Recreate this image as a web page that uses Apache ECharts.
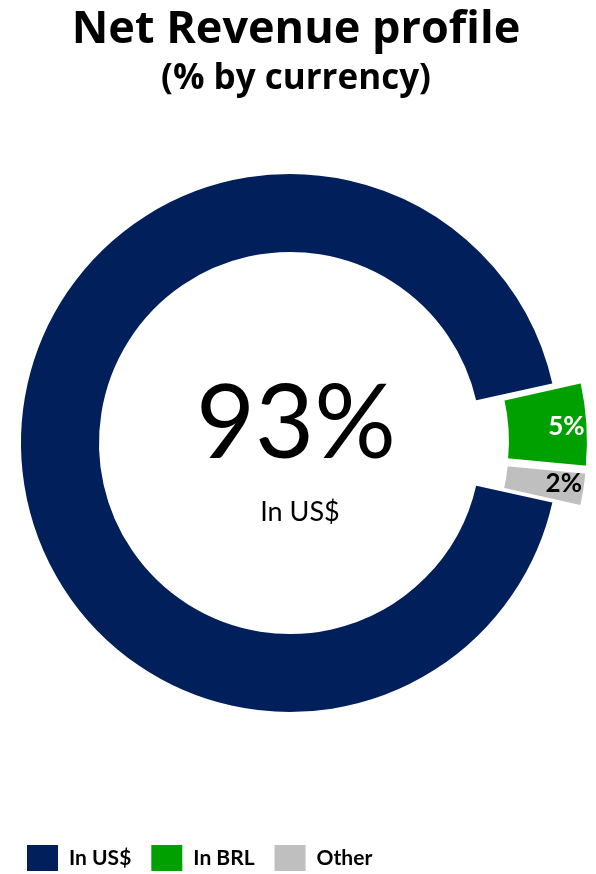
<!DOCTYPE html>
<html>
<head>
<meta charset="utf-8">
<title>Net Revenue profile</title>
<script src="https://cdn.jsdelivr.net/npm/echarts@6/dist/echarts.min.js"></script>
<style>
  html, body { margin: 0; padding: 0; background: #ffffff; }
  #chart { width: 596px; height: 874px; }
</style>
</head>
<body>
<div id="chart"></div>
<script>
// Net revenue split by currency (%)
const currencies = ['In US$', 'In BRL', 'Other'];
const shares = [93, 5, 2];
const sliceColors = ['#001F5B', '#00A000', '#BFBFBF'];
const labelColors = ['#ffffff', '#ffffff', '#000000'];
const exploded = [false, true, true];

const font = 'Lato, "Noto Sans", sans-serif';
const headFont = '"Open Sans", Lato, sans-serif';

const chart = echarts.init(document.getElementById('chart'), null, { renderer: 'canvas' });

// small slices carry their value, pushed towards the outer rim
const pieData = currencies.map((name, i) => ({
  name: name,
  value: shares[i],
  selected: exploded[i],
  itemStyle: { color: sliceColors[i] },
  label: {
    show: i !== 0,
    color: labelColors[i],
    padding: i === 1 ? [0, 0, 0, 32] : [4, 0, 0, 32]
  }
}));

chart.setOption({
  animation: false,
  title: [
    {
      text: 'Net Revenue profile',
      left: 291,
      top: 3,
      textAlign: 'center',
      textStyle: { fontFamily: headFont, fontWeight: 'bold', fontSize: 45, color: '#000000' }
    },
    {
      text: '(% by currency)',
      left: 291,
      top: 57,
      textAlign: 'center',
      textStyle: { fontFamily: headFont, fontWeight: 'bold', fontSize: 35, color: '#000000' }
    },
    {
      text: shares[0] + '%',
      left: 291,
      top: 369,
      textAlign: 'center',
      textStyle: { fontFamily: font, fontWeight: 'normal', fontSize: 102, color: '#000000' }
    },
    {
      text: currencies[0],
      left: 295,
      top: 494,
      textAlign: 'center',
      textStyle: { fontFamily: font, fontWeight: 'normal', fontSize: 27, color: '#000000' }
    }
  ],
  legend: {
    data: currencies,
    left: 25,
    top: 843,
    padding: 0,
    icon: 'rect',
    itemWidth: 33,
    itemHeight: 28,
    itemGap: 18,
    selectedMode: false,
    textStyle: { fontFamily: font, fontWeight: 'bold', fontSize: 21, color: '#000000', padding: [0, 0, 0, 5] }
  },
  series: [
    {
      type: 'pie',
      center: [290, 443],
      radius: [190, 270],
      startAngle: -12.6,
      clockwise: true,
      selectedMode: 'multiple',
      selectedOffset: 28,
      avoidLabelOverlap: false,
      emphasis: { disabled: true },
      itemStyle: { borderColor: '#ffffff', borderWidth: 2 },
      label: {
        position: 'inside',
        formatter: '{c}%',
        fontFamily: font,
        fontWeight: 'bold',
        fontSize: 26
      },
      labelLine: { show: false },
      data: pieData
    }
  ]
});
</script>
</body>
</html>
